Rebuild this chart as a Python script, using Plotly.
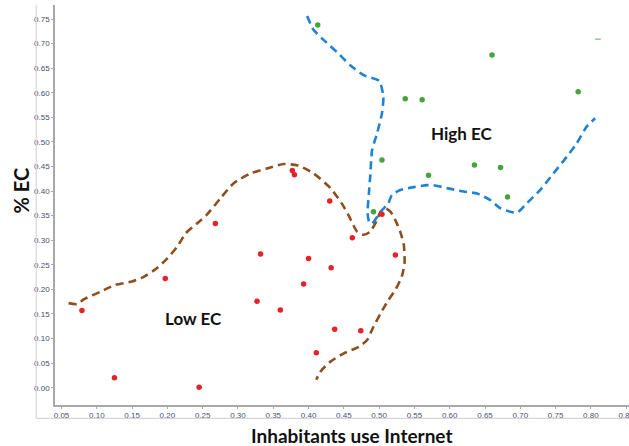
import plotly.graph_objects as go

# ---- data ----
low_x = [0.377, 0.380, 0.079, 0.125, 0.197, 0.245, 0.268, 0.332, 0.327, 0.360,
         0.400, 0.393, 0.411, 0.430, 0.504, 0.462, 0.523, 0.432, 0.437, 0.474]
low_y = [0.442, 0.433, 0.157, 0.020, 0.222, 0.001, 0.334, 0.272, 0.176, 0.158,
         0.263, 0.211, 0.071, 0.380, 0.353, 0.305, 0.270, 0.244, 0.119, 0.116]

high_x = [0.413, 0.660, 0.782, 0.537, 0.561, 0.504, 0.635, 0.672, 0.570, 0.682, 0.492]
high_y = [0.738, 0.677, 0.602, 0.588, 0.586, 0.463, 0.453, 0.448, 0.432, 0.388, 0.358]

low_curve_x = [0.060, 0.072, 0.082, 0.105, 0.126, 0.150, 0.167, 0.185, 0.200, 0.214,
               0.226, 0.242, 0.256, 0.275, 0.294, 0.318, 0.341, 0.365, 0.385, 0.407,
               0.431, 0.447, 0.457, 0.469, 0.478, 0.487, 0.497, 0.502, 0.509, 0.516,
               0.523, 0.530, 0.535, 0.536, 0.532, 0.523, 0.513, 0.502, 0.492, 0.483,
               0.471, 0.450, 0.431, 0.417, 0.411]
low_curve_y = [0.172, 0.170, 0.180, 0.195, 0.209, 0.216, 0.226, 0.243, 0.263, 0.287,
               0.314, 0.334, 0.352, 0.385, 0.416, 0.436, 0.446, 0.455, 0.452, 0.436,
               0.406, 0.375, 0.350, 0.317, 0.311, 0.317, 0.341, 0.358, 0.365, 0.358,
               0.341, 0.317, 0.290, 0.253, 0.226, 0.199, 0.178, 0.151, 0.124, 0.097,
               0.083, 0.070, 0.053, 0.033, 0.016]

high_curve_x = [0.398, 0.407, 0.424, 0.440, 0.459, 0.478, 0.500, 0.506, 0.504, 0.497,
                0.490, 0.4875, 0.4855, 0.4837, 0.486, 0.490, 0.502, 0.513, 0.518, 0.530,
                0.549, 0.568, 0.577, 0.596, 0.620, 0.639, 0.657, 0.672, 0.695, 0.709,
                0.728, 0.747, 0.766, 0.780, 0.794, 0.806]
high_curve_y = [0.756, 0.728, 0.704, 0.683, 0.656, 0.636, 0.624, 0.592, 0.558, 0.517,
                0.483, 0.432, 0.395, 0.355, 0.337, 0.334, 0.358, 0.375, 0.392, 0.402,
                0.408, 0.412, 0.412, 0.406, 0.399, 0.395, 0.382, 0.365, 0.356, 0.375,
                0.402, 0.436, 0.470, 0.497, 0.531, 0.548]

stray_x = [0.810]
stray_y = [0.709]

x_ticks = [round(0.05 * i, 2) for i in range(1, 18)]
y_ticks = [round(0.05 * i, 2) for i in range(0, 16)]
x_labels = [f"{v:.2f}" for v in x_ticks]
y_labels = [f"{v:.2f}" for v in y_ticks]

region_labels = ["High EC", "Low EC"]
region_x = [0.617, 0.2376]
region_y = [0.518, 0.141]

x_title = "Inhabitants use Internet"
y_title = "% EC"

BROWN = "#8f4e1e"
BLUE = "#1f82d2"
RED = "#e3222a"
GREEN = "#45a43c"

fig = go.Figure()
fig.add_trace(go.Scatter(x=low_curve_x, y=low_curve_y, mode="lines",
                         line=dict(color=BROWN, width=2.6, dash="8px,5px", shape="spline", smoothing=0.6),
                         hoverinfo="skip", showlegend=False))
fig.add_trace(go.Scatter(x=high_curve_x, y=high_curve_y, mode="lines",
                         line=dict(color=BLUE, width=2.6, dash="8px,5px", shape="spline", smoothing=0.6),
                         hoverinfo="skip", showlegend=False))
fig.add_trace(go.Scatter(x=low_x, y=low_y, mode="markers",
                         marker=dict(color=RED, size=5.5), showlegend=False))
fig.add_trace(go.Scatter(x=high_x, y=high_y, mode="markers",
                         marker=dict(color=GREEN, size=5.5), showlegend=False))
fig.add_trace(go.Scatter(x=stray_x, y=stray_y, mode="markers",
                         marker=dict(symbol="line-ew", size=4,
                                     line=dict(color="#8cc48a", width=1.5)),
                         showlegend=False))

for t, xx, yy in zip(region_labels, region_x, region_y):
    fig.add_annotation(x=xx, y=yy, text=f"<b>{t}</b>", showarrow=False,
                       font=dict(family="Lato", size=17, color="#111111"))

# axis titles
fig.add_annotation(xref="paper", yref="paper", x=0.516, y=-0.075, text=f"<b>{x_title}</b>",
                   showarrow=False, xanchor="center", yanchor="middle",
                   font=dict(family="Lato", size=19, color="#111111"))
fig.add_annotation(xref="paper", yref="paper", x=-0.060, y=0.535, text=f"<b>{y_title}</b>",
                   showarrow=False, xanchor="center", yanchor="middle", textangle=-90,
                   font=dict(family="Lato", size=20, color="#111111"))

tick_font = dict(family="Liberation Sans, Arial", size=8, color="#4a4d6a")

fig.update_xaxes(range=[0.0408, 0.854], tickmode="array", tickvals=x_ticks, ticktext=x_labels,
                 showgrid=False, zeroline=False, showline=True, linecolor="#a8a8a8", linewidth=1.5,
                 ticks="outside", ticklen=2, tickcolor="#a8a8a8", tickfont=tick_font,
                 ticklabeloverflow="allow", automargin=False)
fig.update_yaxes(range=[-0.0352, 0.7785], tickmode="array", tickvals=y_ticks, ticktext=y_labels,
                 showgrid=False, zeroline=False, showline=True, linecolor="#a8a8a8", linewidth=1.5,
                 ticks="outside", ticklen=2, tickcolor="#a8a8a8", tickfont=tick_font,
                 ticklabeloverflow="allow", automargin=False)

# outer frame remnants (left and bottom)
fig.add_shape(type="line", xref="paper", yref="paper", x0=-0.0327, x1=-0.0327, y0=-0.0333, y1=1.0,
              line=dict(color="#d6d6d6", width=1.2))
fig.add_shape(type="line", xref="paper", yref="paper", x0=-0.0327, x1=1.0, y0=-0.0333, y1=-0.0333,
              line=dict(color="#d6d6d6", width=1.2))

fig.update_layout(width=629, height=446, margin=dict(l=54.5, r=0, t=5, b=41, autoexpand=False),
                  paper_bgcolor="white", plot_bgcolor="white")

fig.write_html("out.html")
